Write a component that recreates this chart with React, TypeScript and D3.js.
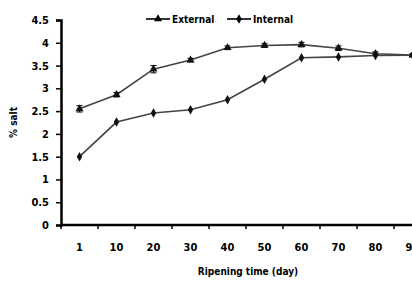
import React, { useEffect, useRef } from "react";
import * as d3 from "d3";

const days = ["1", "10", "20", "30", "40", "50", "60", "70", "80", "90"];
const external = [2.55, 2.86, 3.42, 3.62, 3.89, 3.94, 3.96, 3.88, 3.76, 3.73];
const externalErr = [0.07, 0.05, 0.08, 0.04, 0.04, 0.04, 0.05, 0.05, 0.04, 0.03];
const internal = [1.5, 2.26, 2.46, 2.53, 2.75, 3.2, 3.67, 3.69, 3.72, 3.73];
const yTicks = [0, 0.5, 1, 1.5, 2, 2.5, 3, 3.5, 4, 4.5];

const font = "'Liberation Sans Narrow', 'DejaVu Sans Condensed', sans-serif";

const App = () => {
  const ref = useRef<SVGSVGElement>(null);

  useEffect(() => {
    const svg = d3.select(ref.current);
    svg.selectAll("*").remove();

    const width = 412;
    const height = 281;
    const margin = { top: 20, left: 61, bottom: 225 };

    const x = d3
      .scaleBand()
      .domain(days)
      .range([margin.left, margin.left + 37 * days.length]);

    const y = d3.scaleLinear().domain([0, 4.5]).range([margin.bottom, margin.top]);

    const cx = (d: string) => (x(d) as number) + x.bandwidth() / 2;

    // Y axis
    const yAxis = svg
      .append("g")
      .attr("transform", `translate(${margin.left},0)`)
      .call(
        d3
          .axisLeft(y)
          .tickValues(yTicks)
          .tickFormat((d) => String(d))
          .tickSize(5)
          .tickPadding(7)
      );
    yAxis.select(".domain").attr("stroke", "#000").attr("stroke-width", 2.5);
    yAxis.selectAll("line").attr("stroke", "#000").attr("stroke-width", 1.5);
    yAxis
      .selectAll("text")
      .style("font-family", font)
      .style("font-weight", "bold")
      .style("font-size", "11px")
      .attr("fill", "#000");

    // X axis (ticks between categories)
    const xAxis = svg.append("g").attr("transform", `translate(0,${margin.bottom})`);
    xAxis
      .append("line")
      .attr("x1", margin.left)
      .attr("x2", width)
      .attr("stroke", "#000")
      .attr("stroke-width", 2.5);
    xAxis
      .selectAll("line.tick")
      .data(days)
      .enter()
      .append("line")
      .attr("class", "tick")
      .attr("x1", (d) => x(d) as number)
      .attr("x2", (d) => x(d) as number)
      .attr("y1", 0)
      .attr("y2", 4)
      .attr("stroke", "#000")
      .attr("stroke-width", 1.5);
    xAxis
      .selectAll("text")
      .data(days)
      .enter()
      .append("text")
      .attr("x", cx)
      .attr("y", 26)
      .attr("text-anchor", "middle")
      .style("font-family", font)
      .style("font-weight", "bold")
      .style("font-size", "11px")
      .text((d) => d);

    // axis titles
    svg
      .append("text")
      .attr("transform", `translate(17,${(margin.top + margin.bottom) / 2}) rotate(-90)`)
      .attr("text-anchor", "middle")
      .style("font-family", font)
      .style("font-weight", "bold")
      .style("font-size", "10px")
      .text("% salt");

    svg
      .append("text")
      .attr("x", 248)
      .attr("y", 275)
      .attr("text-anchor", "middle")
      .style("font-family", font)
      .style("font-weight", "bold")
      .style("font-size", "10px")
      .text("Ripening time (day)");

    const line = d3
      .line<number>()
      .x((_, i) => cx(days[i]))
      .y((d) => y(d));

    const triangle = d3.symbol().type(d3.symbolTriangle).size(28);
    const diamond = d3.symbol().type(d3.symbolDiamond).size(26);

    // External series
    svg
      .append("path")
      .datum(external)
      .attr("d", line)
      .attr("fill", "none")
      .attr("stroke", "#444")
      .attr("stroke-width", 1.6);

    const err = svg.append("g");
    external.forEach((v, i) => {
      const px = cx(days[i]);
      const e = externalErr[i];
      err
        .append("line")
        .attr("x1", px)
        .attr("x2", px)
        .attr("y1", y(v - e))
        .attr("y2", y(v + e))
        .attr("stroke", "#000")
        .attr("stroke-width", 1);
      [v - e, v + e].forEach((w) =>
        err
          .append("line")
          .attr("x1", px - 3)
          .attr("x2", px + 3)
          .attr("y1", y(w))
          .attr("y2", y(w))
          .attr("stroke", "#000")
          .attr("stroke-width", 1)
      );
    });

    svg
      .selectAll("path.ext")
      .data(external)
      .enter()
      .append("path")
      .attr("class", "ext")
      .attr("transform", (d, i) => `translate(${cx(days[i])},${y(d)})`)
      .attr("d", triangle)
      .attr("fill", "#111");

    // Internal series
    svg
      .append("path")
      .datum(internal)
      .attr("d", line)
      .attr("fill", "none")
      .attr("stroke", "#444")
      .attr("stroke-width", 1.6);

    svg
      .selectAll("path.int")
      .data(internal)
      .enter()
      .append("path")
      .attr("class", "int")
      .attr("transform", (d, i) => `translate(${cx(days[i])},${y(d)})`)
      .attr("d", diamond)
      .attr("fill", "#111");

    // Legend
    const legend = [
      { name: "External", x: 146, sym: triangle },
      { name: "Internal", x: 227, sym: diamond },
    ];
    const lg = svg.append("g").attr("transform", "translate(0,19)");
    legend.forEach((l) => {
      lg.append("line")
        .attr("x1", l.x)
        .attr("x2", l.x + 24)
        .attr("stroke", "#000")
        .attr("stroke-width", 1.6);
      lg.append("path")
        .attr("transform", `translate(${l.x + 12},0)`)
        .attr("d", l.sym)
        .attr("fill", "#000");
      lg.append("text")
        .attr("x", l.x + 26)
        .attr("y", 4)
        .style("font-family", font)
        .style("font-weight", "bold")
        .style("font-size", "10px")
        .text(l.name);
    });
  }, []);

  return (
    <svg
      ref={ref}
      width={412}
      height={281}
      style={{ position: "absolute", left: 0, top: 0, background: "#fff" }}
    ></svg>
  );
};

export default App;
